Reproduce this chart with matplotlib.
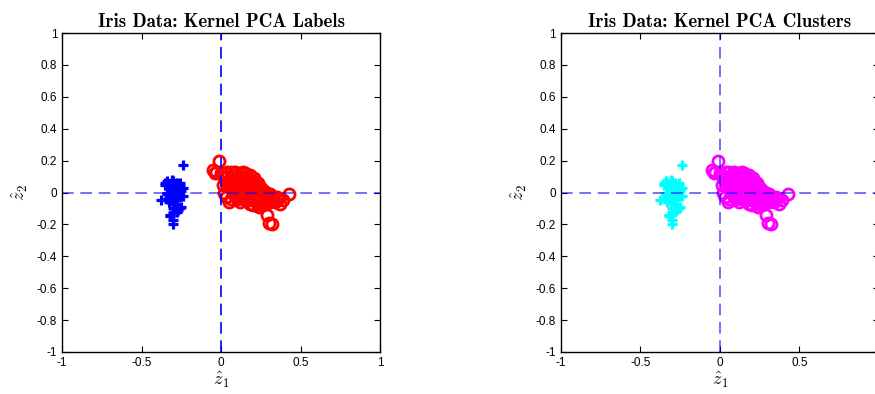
import os

import matplotlib
matplotlib.use("Agg")
from matplotlib import pyplot as plt
from matplotlib.font_manager import FontProperties
from matplotlib.ticker import FuncFormatter

# Kernel PCA projections (z1, z2)
setosa_x = [-0.32, -0.28, -0.30, -0.26, -0.34, -0.30, -0.28, -0.32, -0.25, -0.30,
            -0.35, -0.28, -0.31, -0.26, -0.33, -0.30, -0.24, -0.34, -0.28, -0.30,
            -0.32, -0.26, -0.30, -0.29, -0.38, -0.31, -0.25, -0.32, -0.28, -0.29,
            -0.34, -0.27, -0.30, -0.33, -0.28, -0.24, -0.30, -0.35, -0.27, -0.31,
            -0.32, -0.28, -0.29, -0.34, -0.26, -0.30, -0.28, -0.33, -0.24, -0.30]
setosa_y = [0.05, 0.03, 0.00, -0.02, 0.07, 0.04, -0.05, 0.02, 0.01, -0.03,
            0.06, -0.08, 0.08, 0.04, -0.01, -0.06, -0.02, -0.04, 0.02, -0.10,
            0.03, 0.06, -0.13, 0.00, -0.045, 0.05, -0.09, -0.15, 0.01, -0.07,
            0.00, -0.11, 0.07, -0.03, -0.12, 0.03, -0.20, 0.05, 0.02, -0.05,
            -0.14, 0.04, 0.01, -0.01, -0.10, 0.02, 0.06, -0.06, 0.17, -0.17]

other_x = [-0.05, -0.04, -0.03, -0.01, 0.02, 0.00, 0.01, 0.02, 0.03, 0.05,
           0.04, 0.06, 0.08, 0.07, 0.09, 0.10, 0.12, 0.11, 0.13, 0.14,
           0.15, 0.17, 0.16, 0.18, 0.19, 0.20, 0.21, 0.22, 0.23, 0.24,
           0.25, 0.26, 0.27, 0.28, 0.30, 0.31, 0.33, 0.35, 0.37, 0.39,
           0.43, 0.29, 0.30, 0.32, 0.10, 0.12, 0.15, 0.18, 0.20, 0.22,
           0.24, 0.26, 0.09, 0.06, 0.08, 0.11, 0.13, 0.16, 0.18, 0.20,
           0.21, 0.23, 0.25, 0.27, 0.29, 0.14, 0.16, 0.19, 0.21, 0.23,
           0.28, 0.32, 0.34, 0.05, 0.07, 0.12, 0.10, 0.17, 0.19, 0.22,
           0.24, 0.26, 0.13, 0.15, 0.03, 0.04, 0.08, 0.11, 0.17, 0.20,
           0.25, 0.29, 0.31, 0.36, 0.14, 0.09, 0.18, 0.27, 0.22, 0.06]
other_y = [0.14, 0.12, 0.13, 0.20, 0.09, 0.12, 0.05, 0.00, -0.03, -0.06,
           0.13, 0.13, 0.12, 0.08, 0.10, 0.05, 0.07, 0.03, 0.00, 0.10,
           0.12, 0.06, 0.02, 0.03, -0.01, 0.04, 0.00, -0.03, 0.02, -0.02,
           -0.04, -0.01, -0.05, -0.03, -0.02, -0.06, -0.04, -0.03, -0.07, -0.05,
           -0.01, -0.14, -0.19, -0.20, -0.04, -0.06, -0.05, -0.07, -0.08, -0.06,
           -0.09, -0.08, -0.02, 0.02, 0.04, 0.10, 0.08, 0.09, 0.11, 0.07,
           0.09, 0.06, 0.03, 0.01, 0.00, -0.02, -0.03, -0.04, -0.05, -0.07,
           -0.07, -0.03, -0.06, 0.06, 0.10, 0.12, 0.01, 0.00, 0.05, 0.01,
           0.04, -0.06, 0.04, 0.06, 0.10, 0.04, -0.01, -0.03, -0.05, -0.02,
           -0.07, -0.04, -0.01, -0.04, 0.13, 0.13, 0.08, -0.02, 0.05, -0.04]

yticks = [-1, -0.8, -0.6, -0.4, -0.2, 0, 0.2, 0.4, 0.6, 0.8, 1]
xticks = [-1, -0.5, 0, 0.5, 1]

plt.rcParams['mathtext.fontset'] = 'cm'
plt.rcParams['font.family'] = ['Liberation Sans', 'DejaVu Sans']

# Computer Modern bold ships with matplotlib, used for the LaTeX-looking titles
cmb = FontProperties(fname=os.path.join(matplotlib.get_data_path(),
                                        'fonts', 'ttf', 'cmb10.ttf'), size=13.5)


def fmt(v, pos):
    return '%g' % round(v, 2)


def fmt_cut(v, pos):
    # the right panel runs past the figure edge, so its "1" is not shown
    return '' if v >= 1 else '%g' % round(v, 2)


fig = plt.figure(figsize=(8.75, 3.94), dpi=100)
panels = [
    (0.0709, 'Labels', 'blue', 'red', 1.0, fmt),
    (0.6411, 'Clusters', 'cyan', 'magenta', 0.65, fmt_cut),
]
for left, name, c1, c2, valpha, xfmt in panels:
    ax = fig.add_axes([left, 0.1066, 0.3634, 0.8096])
    ax.plot(setosa_x, setosa_y, '+', color=c1, ms=6.5, mew=2.3, ls='none')
    ax.plot(other_x, other_y, 'o', mfc='none', mec=c2, ms=8, mew=2.0, ls='none')
    ax.axhline(0, color='blue', lw=1.2, alpha=0.65, dashes=(7, 4))
    ax.axvline(0, color='blue', lw=1.2, alpha=valpha, dashes=(7, 4))
    ax.set_xlim(-1, 1)
    ax.set_ylim(-1, 1)
    ax.set_xticks(xticks)
    ax.set_yticks(yticks)
    ax.xaxis.set_major_formatter(FuncFormatter(xfmt))
    ax.yaxis.set_major_formatter(FuncFormatter(fmt))
    ax.tick_params(direction='in', top=True, right=True, length=4,
                   labelsize=8.5, width=0.8)
    for sp in ax.spines.values():
        sp.set_linewidth(1.0)
    ax.set_title('Iris Data: Kernel PCA ' + name, fontproperties=cmb, pad=4)
    ax.set_xlabel(r'$\hat{z}_1$', fontsize=13, labelpad=1)
    ax.set_ylabel(r'$\hat{z}_2$', fontsize=13, labelpad=5)

fig.savefig('out.png', dpi=100)
